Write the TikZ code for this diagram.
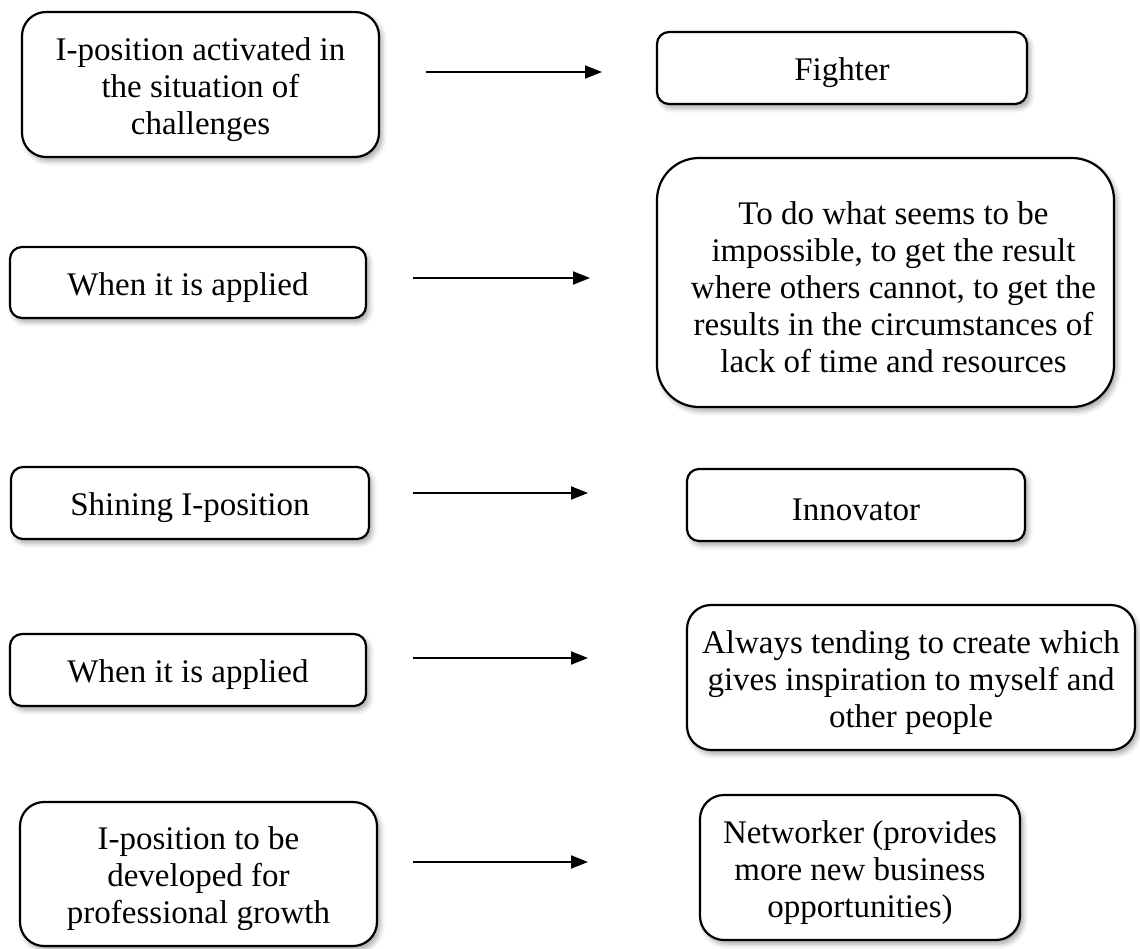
\documentclass[tikz,border=0pt]{standalone}
\usepackage{fontspec}
\setmainfont{Liberation Serif}
\usetikzlibrary{arrows.meta,shadows.blur}

\tikzset{
  boxshape/.style={draw, fill=white, line width=2.2pt, inner sep=0pt,
    blur shadow={shadow xshift=3pt, shadow yshift=-4pt,
                 shadow blur radius=5pt, shadow opacity=35}},
  boxtext/.style={align=center, inner sep=0pt,
    font=\fontsize{33}{37}\selectfont},
  flow/.style={line width=2pt, -{Triangle[length=17pt,width=13pt]}}
}

% rounded text box
% [#1] text x offset, #2 name, #3 x, #4 y (centre), #5 width, #6 height,
% #7 corner radius, #8 text
\newcommand\ipbox[8][0]{%
  \node[boxshape, minimum width=#5pt, minimum height=#6pt,
        rounded corners=#7pt] (#2) at (#3,#4) {};
  \node[boxtext, xshift=#1pt, yshift=-5pt] (#2-text) at (#2.center) {#8};
}

\begin{document}
\begin{tikzpicture}[x=1pt, y=-1pt]
\useasboundingbox (0,0) rectangle (1140,948);

% left column
\ipbox{activated}{200.5}{84.5}{357}{145}{24}{I-position activated in\\the situation of\\challenges}
\ipbox{applied1}{188}{282.5}{356}{71}{12}{When it is applied}
\ipbox{shining}{190}{503}{358}{72}{12}{Shining I-position}
\ipbox{applied2}{188}{670}{356}{72}{12}{When it is applied}
\ipbox{develop}{198.5}{874}{357}{144}{24}{I-position to be\\developed for\\professional growth}

% right column
\ipbox{fighter}{842}{68}{370}{72}{12}{Fighter}
\ipbox[8]{impossible}{885.5}{282.5}{457}{249}{42}{To do what seems to be\\impossible, to get the result\\where others cannot, to get the\\results in the circumstances of\\lack of time and resources}
\ipbox{innovator}{856}{505}{338}{72}{12}{Innovator}
\ipbox{inspire}{911}{677.5}{448}{145}{24}{Always tending to create which\\gives inspiration to myself and\\other people}
\ipbox{networker}{860}{867.5}{320}{145}{24}{Networker (provides\\more new business\\opportunities)}

% connectors between the columns
\coordinate (a1s) at (426,72);  \coordinate (a1e) at (602,72);
\coordinate (a2s) at (413,278); \coordinate (a2e) at (590,278);
\coordinate (a3s) at (413,493); \coordinate (a3e) at (588,493);
\coordinate (a4s) at (413,658); \coordinate (a4e) at (588,658);
\coordinate (a5s) at (413,862); \coordinate (a5e) at (588,862);
\foreach \i in {1,...,5} \draw[flow] (a\i s) -- (a\i e);
\end{tikzpicture}
\end{document}
